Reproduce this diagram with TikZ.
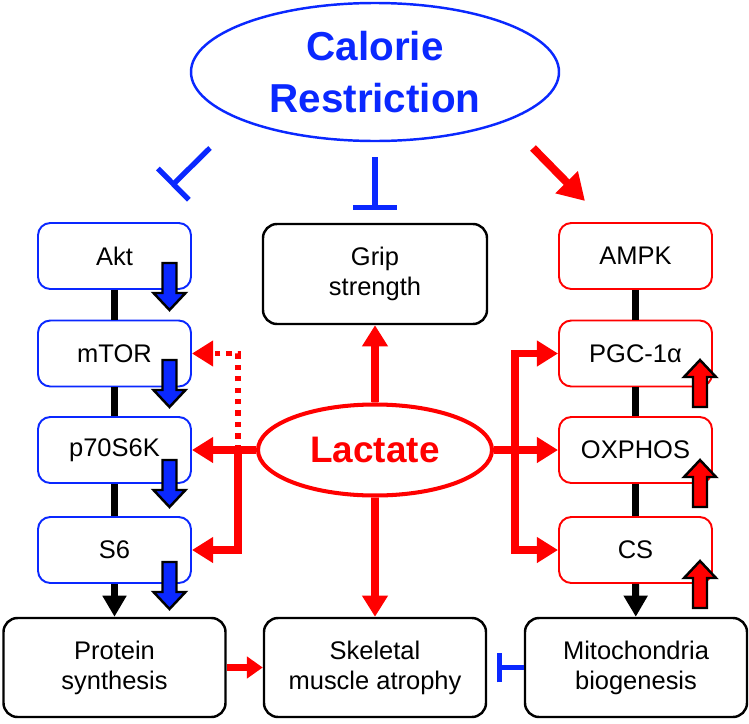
\documentclass[tikz,border=0pt]{standalone}
\usepackage{fontspec}
\setmainfont{Liberation Sans}
\usetikzlibrary{arrows.meta,shapes.geometric}

\definecolor{crblue}{RGB}{10,40,255}
\definecolor{lacred}{RGB}{255,0,0}

\tikzset{
  dnarr/.pic={\draw[fill=crblue,line width=1.4pt,line join=miter]
    (-0.14,0)--(0.14,0)--(0.14,-0.6)--(0.32,-0.6)--(0,-0.94)--(-0.32,-0.6)--(-0.14,-0.6)--cycle;},
  uparr/.pic={\draw[fill=lacred,line width=1.4pt,line join=miter]
    (-0.14,0)--(0.14,0)--(0.14,0.6)--(0.32,0.6)--(0,0.94)--(-0.32,0.6)--(-0.14,0.6)--cycle;}
}

\begin{document}
\begin{tikzpicture}[thick,
  txt/.style={font=\fontsize{14.5}{17}\selectfont, align=center, inner sep=0pt},
  bluebox/.style={txt, draw=crblue, line width=1.1pt, rounded corners=7pt, minimum width=3.06cm, minimum height=1.32cm},
  redbox/.style={txt, draw=lacred, line width=1.1pt, rounded corners=7pt, minimum width=3.06cm, minimum height=1.32cm},
  blackbox/.style={txt, draw=black, line width=1.4pt, rounded corners=8pt, minimum width=4.44cm, minimum height=1.98cm},
  link/.style={line width=4pt},
  ract/.style={draw=lacred, line width=4pt, -{Triangle[length=12pt,width=14pt]}},
  inhib/.style={draw=crblue, line width=3pt, -{Bar[width=25pt]}},
]
\useasboundingbox (0,0) rectangle (14.98,-14.46);

\node[ellipse, draw=crblue, line width=1.4pt, minimum width=7.36cm, minimum height=2.76cm, inner sep=0pt,
  text=crblue, font=\bfseries\fontsize{23}{29.5}\selectfont, align=center](cr) at (7.5,-1.44){Calorie\\Restriction};

\node[bluebox](akt) at (2.29,-5.12){Akt};
\node[bluebox](mtor) at (2.29,-7.07){mTOR};
\node[bluebox](p70) at (2.29,-9.0){p70S6K};
\node[bluebox](s6) at (2.29,-11.0){S6};

\node[redbox](ampk) at (12.71,-5.12){AMPK};
\node[redbox](pgc) at (12.71,-7.07){PGC-1α};
\node[redbox](oxp) at (12.71,-9.0){OXPHOS};
\node[redbox](cs) at (12.71,-11.0){CS};

\node[blackbox, minimum width=4.48cm, minimum height=2.0cm](grip) at (7.5,-5.48){Grip\\strength};
\node[blackbox](prot) at (2.29,-13.35){Protein\\synthesis};
\node[blackbox](skel) at (7.5,-13.35){Skeletal\\muscle atrophy};
\node[blackbox](mito) at (12.72,-13.35){Mitochondria\\biogenesis};

\node[ellipse, draw=lacred, line width=2.3pt, minimum width=4.68cm, minimum height=1.82cm, inner sep=0pt,
  text=lacred, font=\bfseries\fontsize{21}{25}\selectfont](lac) at (7.5,-9.0){Lactate};

% calorie restriction
\coordinate (crL1) at (4.2,-2.96);
\coordinate (crL2) at (3.43,-3.72);
\coordinate (crR1) at (10.66,-2.96);
\coordinate (crR2) at (11.7,-4.02);
\draw[inhib](crL1)--(crL2);
\draw[inhib, shorten <=0.3cm, shorten >=0.26cm](cr)--(grip);
\draw[draw=lacred, line width=4.5pt, -{Triangle[length=15pt,width=17pt]}](crR1)--(crR2);

% pathways
\draw[link](akt)--(mtor);
\draw[link](mtor)--(p70);
\draw[link](p70)--(s6);
\draw[link, -{Triangle[length=12pt,width=13pt]}](s6)--(prot);
\draw[link](ampk)--(pgc);
\draw[link](pgc)--(oxp);
\draw[link](oxp)--(cs);
\draw[link, -{Triangle[length=12pt,width=13pt]}](cs)--(mito);

% lactate
\coordinate (jl) at (4.76,-9.0);
\coordinate (jr) at (10.3,-9.0);
\draw[ract](lac.north)--(grip.south);
\draw[ract](lac.south)--(skel.north);
\draw[ract](lac.west)--(p70.east);
\draw[ract](lac.east)--(oxp.west);
\draw[ract](jl)|-(s6.east);
\draw[ract, line width=3pt, dash pattern=on 3pt off 3.5pt](jl)|-(mtor.east);
\draw[ract](jr)|-(pgc.west);
\draw[ract](jr)|-(cs.west);
\draw[draw=lacred, line width=3.5pt, -{Triangle[length=9pt,width=12pt]}](prot)--(skel);
\draw[inhib, line width=2.8pt, -{Bar[width=17pt]}, shorten >=0.2cm](mito)--(skel);

% up / down
\pic at (3.39,-5.26){dnarr};
\pic at (3.39,-7.2){dnarr};
\pic at (3.39,-9.2){dnarr};
\pic at (3.39,-11.24){dnarr};
\pic at (14.0,-8.14){uparr};
\pic at (14.0,-10.14){uparr};
\pic at (14.0,-12.16){uparr};
\end{tikzpicture}
\end{document}
